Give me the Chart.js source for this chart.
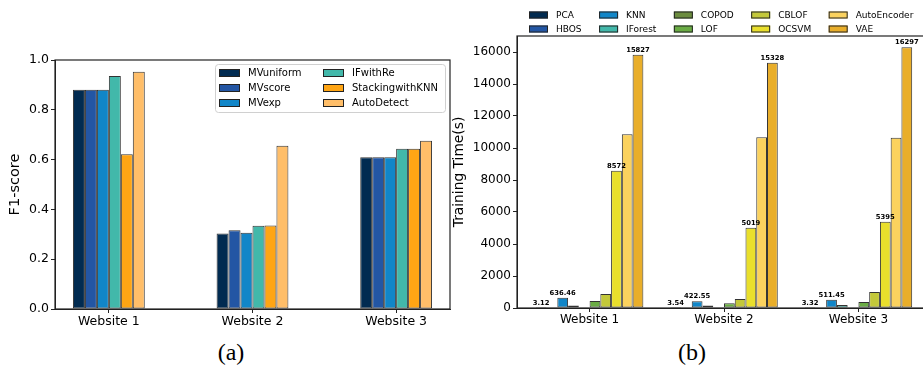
<!DOCTYPE html>
<html>
<head>
<meta charset="utf-8">
<script src="https://cdn.jsdelivr.net/npm/chart.js@4"></script>
<style>
  body { margin:0; width:923px; height:369px; overflow:hidden; background:#fff; position:relative; }
  .wrap { position:absolute; top:0; }
  .cap { position:absolute; top:338px; font-family:'Liberation Serif', serif; font-size:24px; line-height:28px; text-align:center; width:100px; color:#000; }
</style>
</head>
<body>
<div class="wrap" style="left:0"><canvas id="chartA" width="460" height="332"></canvas></div>
<div class="wrap" style="left:440px"><canvas id="chartB" width="500" height="332"></canvas></div>
<div class="cap" style="left:181px">(a)</div>
<div class="cap" style="left:642px">(b)</div>
<script>
// categories
const websites = ['Website 1', 'Website 2', 'Website 3'];

// (a) F1-score per method
const f1Methods = ['MVuniform', 'MVscore', 'MVexp', 'IFwithRe', 'StackingwithKNN', 'AutoDetect'];
const f1Colors = ['#012b51', '#2356a4', '#1186c8', '#42b8aa', '#ffa514', '#ffbe69'];
const mvUniform = [0.881, 0.303, 0.609];
const mvScore = [0.881, 0.316, 0.609];
const mvExp = [0.881, 0.306, 0.609];
const ifWithRe = [0.936, 0.334, 0.644];
const stackingKnn = [0.621, 0.335, 0.644];
const autoDetect = [0.953, 0.656, 0.676];
const f1Values = [mvUniform, mvScore, mvExp, ifWithRe, stackingKnn, autoDetect];
const f1Ticks = [0, 0.2, 0.4, 0.6, 0.8, 1.0];

// (b) training time (s) per detector
const detectors = ['PCA', 'HBOS', 'KNN', 'IForest', 'COPOD', 'LOF', 'CBLOF', 'OCSVM', 'AutoEncoder', 'VAE'];
const detColors = ['#012b51', '#2356a4', '#1186c8', '#42b8aa', '#6b8c3e', '#6aac44', '#c3c83a', '#e9df2c', '#fbd25e', '#e9ae2a'];
const pca = [3.12, 3.54, 3.32];
const hbos = [45, 45, 45];
const knn = [636.46, 422.55, 511.45];
const iforest = [160, 150, 190];
const copod = [40, 40, 40];
const lof = [440, 295, 375];
const cblof = [875, 560, 1000];
const ocsvm = [8572, 5019, 5395];
const autoEncoder = [10854, 10668, 10646];
const vae = [15827, 15328, 16297];
const timeValues = [pca, hbos, knn, iforest, copod, lof, cblof, ocsvm, autoEncoder, vae];
const timeTicks = [0, 2000, 4000, 6000, 8000, 10000, 12000, 14000, 16000];
const labeledDetectors = ['PCA', 'KNN', 'OCSVM', 'VAE'];

Chart.defaults.font.family = "'DejaVu Sans'";
Chart.defaults.color = '#000';

const axisColor = '#222';

// box around the plot area like matplotlib spines
const framePlugin = {
  id: 'frame',
  afterDatasetsDraw(chart) {
    const { ctx, chartArea: a } = chart;
    ctx.save();
    ctx.strokeStyle = axisColor;
    ctx.lineWidth = 1.2;
    ctx.strokeRect(a.left, a.top, a.right - a.left, a.bottom - a.top);
    ctx.restore();
  }
};

const legendA = {
  id: 'legendA',
  afterDatasetsDraw(chart) {
    const ctx = chart.ctx;
    ctx.save();
    ctx.fillStyle = 'rgba(255,255,255,0.85)';
    ctx.strokeStyle = '#d0d0d0';
    ctx.lineWidth = 1;
    ctx.beginPath();
    ctx.roundRect(215.5, 64.5, 230, 48, 3);
    ctx.fill();
    ctx.stroke();
    ctx.font = "10px 'DejaVu Sans'";
    ctx.textBaseline = 'middle';
    chart.data.datasets.forEach((ds, i) => {
      const col = Math.floor(i / 3), row = i % 3;
      const px = col ? 323 : 219;
      const py = 73 + row * 15;
      ctx.fillStyle = ds.backgroundColor;
      ctx.fillRect(px, py - 4, 21, 8);
      ctx.strokeStyle = '#222';
      ctx.strokeRect(px + 0.5, py - 3.5, 20, 7);
      ctx.fillStyle = '#000';
      ctx.fillText(ds.label, px + 29, py + 0.5);
    });
    ctx.restore();
  }
};

const legendB = {
  id: 'legendB',
  afterDatasetsDraw(chart) {
    const ctx = chart.ctx;
    ctx.save();
    ctx.font = "9px 'DejaVu Sans'";
    ctx.textBaseline = 'middle';
    const ds = chart.data.datasets;
    let x = 89;
    for (let c = 0; c < 5; c++) {
      let maxW = 0;
      for (let r = 0; r < 2; r++) {
        const d = ds[c * 2 + r];
        const py = 15 + r * 14;
        ctx.fillStyle = d.backgroundColor;
        ctx.fillRect(x, py - 3.5, 19, 7);
        ctx.strokeStyle = '#222';
        ctx.strokeRect(x + 0.5, py - 3, 18, 6);
        ctx.fillStyle = '#000';
        ctx.fillText(d.label, x + 27, py + 0.5);
        maxW = Math.max(maxW, ctx.measureText(d.label).width);
      }
      x += 27 + maxW + 17.5;
    }
    ctx.restore();
  }
};

const valueLabels = {
  id: 'valueLabels',
  afterDatasetsDraw(chart) {
    const ctx = chart.ctx;
    ctx.save();
    ctx.font = "bold 6.8px 'DejaVu Sans'";
    ctx.textAlign = 'center';
    ctx.textBaseline = 'bottom';
    ctx.fillStyle = '#000';
    chart.data.datasets.forEach((ds, i) => {
      if (!labeledDetectors.includes(ds.label)) return;
      chart.getDatasetMeta(i).data.forEach((bar, j) => {
        ctx.fillText(String(timeValues[i][j]), bar.x, bar.y - 1.5);
      });
    });
    ctx.restore();
  }
};

function xAxis(min, max, fontSize, height) {
  return {
    type: 'linear', min: min, max: max, offset: false,
    afterBuildTicks: s => { s.ticks = websites.map((_, i) => ({ value: i })); },
    ticks: { callback: v => websites[v], font: { size: fontSize }, padding: 1, maxRotation: 0, autoSkip: false },
    grid: { drawOnChartArea: false, offset: false, tickLength: 4, color: axisColor },
    border: { color: axisColor },
    afterFit: s => { s.height = height; }
  };
}

function yAxis(max, tickList, fmt, fontSize, title, titleSize, titlePad, width) {
  return {
    min: 0, max: max,
    afterBuildTicks: s => { s.ticks = tickList.map(v => ({ value: v })); },
    ticks: { callback: fmt, font: { size: fontSize }, padding: 2 },
    grid: { drawOnChartArea: false, tickLength: 4, color: axisColor },
    border: { color: axisColor },
    title: { display: true, text: title, font: { size: titleSize }, padding: { top: titlePad, bottom: 0 } },
    afterFit: s => { s.width = width; }
  };
}

new Chart(document.getElementById('chartA'), {
  type: 'bar',
  data: {
    datasets: f1Methods.map((m, i) => ({
      label: m,
      data: f1Values[i].map((v, k) => ({ x: k, y: v })),
      backgroundColor: f1Colors[i],
      borderColor: 'rgba(0,0,0,0.8)',
      borderWidth: 1,
      borderSkipped: false,
      barPercentage: 1,
      categoryPercentage: 0.5
    }))
  },
  options: {
    responsive: false,
    animation: false,
    devicePixelRatio: 1,
    layout: { padding: { top: 60, right: 10, bottom: 0, left: 0 } },
    plugins: { legend: { display: false }, tooltip: { enabled: false } },
    scales: {
      x: xAxis(-0.375, 2.375, 12.5, 23),
      y: yAxis(1, f1Ticks, v => v.toFixed(1), 12.5, 'F1-score', 14.5, 7, 55)
    }
  },
  plugins: [framePlugin, legendA]
});

new Chart(document.getElementById('chartB'), {
  type: 'bar',
  data: {
    datasets: detectors.map((d, i) => ({
      label: d,
      data: timeValues[i].map((v, k) => ({ x: k, y: v })),
      backgroundColor: detColors[i],
      borderColor: 'rgba(0,0,0,0.8)',
      borderWidth: 1,
      borderSkipped: false,
      barPercentage: 1,
      categoryPercentage: 0.8
    }))
  },
  options: {
    responsive: false,
    animation: false,
    devicePixelRatio: 1,
    layout: { padding: { top: 36, right: 9, bottom: 0, left: 0 } },
    plugins: { legend: { display: false }, tooltip: { enabled: false } },
    scales: {
      x: xAxis(-0.54, 2.54, 12, 24),
      y: yAxis(17000, timeTicks, v => String(v), 12, 'Training Time(s)', 13.8, 11.5, 77)
    }
  },
  plugins: [framePlugin, legendB, valueLabels]
});
</script>
</body>
</html>
